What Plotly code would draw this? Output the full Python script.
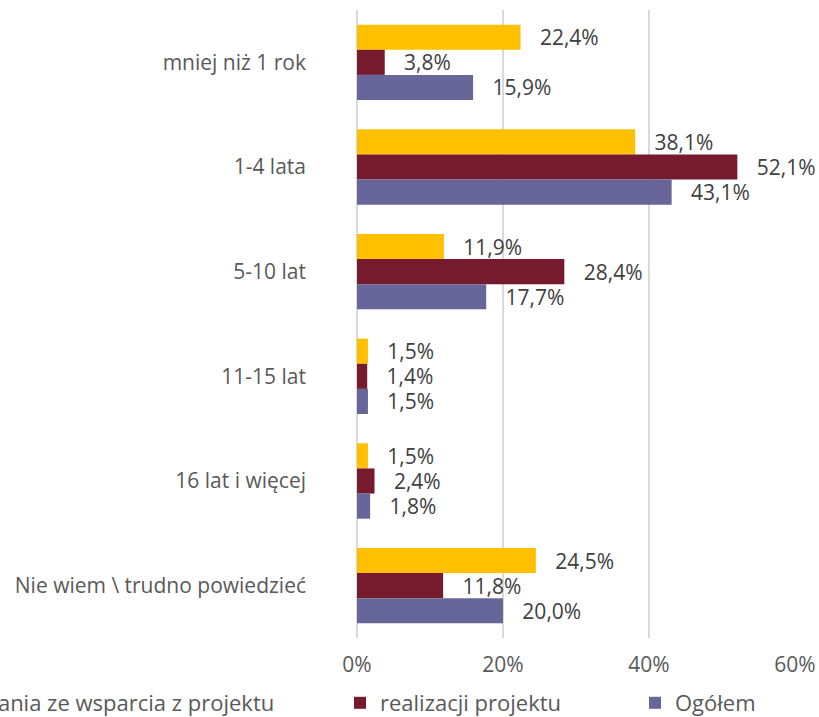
import plotly.graph_objects as go

categories = ["mniej niż 1 rok", "1-4 lata", "5-10 lat", "11-15 lat",
              "16 lat i więcej", "Nie wiem \\ trudno powiedzieć"]
series_names = ["Po zakończeniu korzystania ze wsparcia z projektu",
                "realizacji projektu", "Ogółem"]
after_support = [22.4, 38.1, 11.9, 1.5, 1.5, 24.5]
during_project = [3.8, 52.1, 28.4, 1.4, 2.4, 11.8]
overall = [15.9, 43.1, 17.7, 1.5, 1.8, 20.0]
x_ticks = [0, 20, 40, 60]
x_tick_labels = ["0%", "20%", "40%", "60%"]

colors = ["#FFC000", "#751B2D", "#666699"]
values = [after_support, during_project, overall]
legend_ids = ["legend", "legend2", "legend3"]

FONT = "Open Sans"
FS = 21
L, R, T, B = 357, 24, 10, 79
W, H = 819, 717
plot_w = W - L - R
plot_h = H - T - B


def px_x(px):
    return (px - L) / plot_w


fig = go.Figure()
for name, vals, col, lg in zip(series_names, values, colors, legend_ids):
    fig.add_trace(go.Bar(
        y=categories, x=vals, name=name, orientation="h",
        marker=dict(color=col, line=dict(width=0)),
        texttemplate="\u00a0\u00a0\u00a0%{x:.1f}%", textposition="outside",
        textfont=dict(family=FONT, size=FS, color="#404040"),
        constraintext="none", cliponaxis=False, legend=lg, showlegend=True,
    ))

leg_y = -(682 - (H - B)) / plot_h
legend_font = dict(family=FONT, size=22, color="#595959")
fig.update_layout(
    width=W, height=H, showlegend=True,
    margin=dict(l=L, r=R, t=T, b=B, autoexpand=False),
    paper_bgcolor="white", plot_bgcolor="white",
    barmode="group", bargap=0.28, bargroupgap=0,
    separators=", ",
    font=dict(family=FONT, size=FS, color="#595959"),
    legend=dict(orientation="h", x=px_x(280), xanchor="right", y=leg_y,
                yanchor="top", font=legend_font, bgcolor="rgba(0,0,0,0)",
                visible=True),
    legend2=dict(orientation="h", x=px_x(340), xanchor="left", y=leg_y,
                 yanchor="top", font=legend_font, bgcolor="rgba(0,0,0,0)"),
    legend3=dict(orientation="h", x=px_x(635), xanchor="left", y=leg_y,
                 yanchor="top", font=legend_font, bgcolor="rgba(0,0,0,0)"),
)
fig.update_xaxes(range=[0, 60], tickvals=x_ticks, ticktext=x_tick_labels,
                 showgrid=True, gridcolor="#D9D9D9", gridwidth=2,
                 zeroline=True, zerolinecolor="#D9D9D9", zerolinewidth=2,
                 showline=False, ticks="", ticklabelstandoff=12,
                 tickfont=dict(family=FONT, size=FS, color="#595959"))
fig.update_yaxes(autorange="reversed", showgrid=False, showline=False,
                 ticks="", ticklabelstandoff=50,
                 tickfont=dict(family=FONT, size=FS, color="#595959"))

fig.write_html("out.html", config={"displayModeBar": False},
               post_script="document.body.style.margin='0';")
